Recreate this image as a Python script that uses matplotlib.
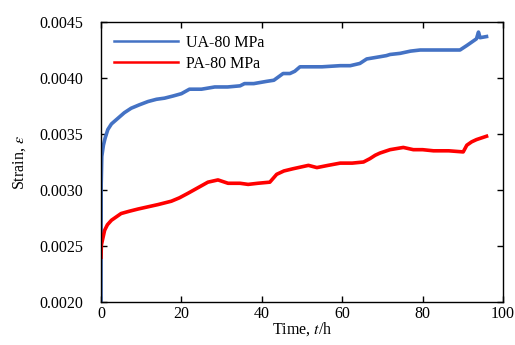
import matplotlib
matplotlib.use("Agg")
import matplotlib.pyplot as plt
from matplotlib.ticker import FormatStrFormatter, MultipleLocator

plt.rcParams['font.family'] = ['Liberation Serif', 'DejaVu Serif']
plt.rcParams['mathtext.fontset'] = 'stix'

# UA-80 MPa
ua_t = [0.0, 0.05, 0.2, 0.6, 1.0, 1.7, 2.6, 4.2, 5.8, 7.5, 9.5, 11.7, 13.8, 15.8, 18.0,
        20.0, 21.0, 22.0, 25.0, 28.3, 31.5, 34.6, 35.7, 38.0, 41.2, 43.0, 45.3, 47.0,
        48.2, 49.5, 52.0, 55.0, 59.5, 62.0, 64.4, 66.1, 69.4, 71.0, 71.9, 74.4, 77.0,
        79.4, 83.0, 86.0, 89.3, 91.0, 91.8, 93.4, 93.9, 94.3, 95.9]
ua_e = [0.00200, 0.00305, 0.00330, 0.00340, 0.00346, 0.00354, 0.00359, 0.00364, 0.00369,
        0.00373, 0.00376, 0.00379, 0.00381, 0.00382, 0.00384, 0.00386, 0.00388, 0.00390,
        0.00390, 0.00392, 0.00392, 0.00393, 0.00395, 0.00395, 0.00397, 0.00398, 0.00404,
        0.00404, 0.00406, 0.00410, 0.00410, 0.00410, 0.00411, 0.00411, 0.00413, 0.00417,
        0.00419, 0.00420, 0.00421, 0.00422, 0.00424, 0.00425, 0.00425, 0.00425, 0.00425,
        0.00429, 0.00431, 0.00435, 0.00441, 0.00436, 0.00437]

# PA-80 MPa
pa_t = [0.0, 0.1, 0.9, 1.6, 2.6, 3.8, 5.0, 7.0, 9.2, 11.7, 14.2, 17.5, 19.5, 21.6, 24.1,
        26.6, 29.1, 31.6, 34.6, 36.6, 39.0, 42.0, 43.7, 45.5, 47.8, 51.6, 53.7, 56.5,
        59.5, 62.5, 65.3, 66.9, 68.2, 69.4, 71.9, 75.2, 77.7, 80.0, 82.7, 86.5, 90.1,
        91.0, 92.2, 93.4, 95.9]
pa_e = [0.00240, 0.00251, 0.00264, 0.00269, 0.00273, 0.00276, 0.00279, 0.00281, 0.00283,
        0.00285, 0.00287, 0.00290, 0.00293, 0.00297, 0.00302, 0.00307, 0.00309, 0.00306,
        0.00306, 0.00305, 0.00306, 0.00307, 0.00314, 0.00317, 0.00319, 0.00322, 0.00320,
        0.00322, 0.00324, 0.00324, 0.00325, 0.00328, 0.00331, 0.00333, 0.00336, 0.00338,
        0.00336, 0.00336, 0.00335, 0.00335, 0.00334, 0.00340, 0.00343, 0.00345, 0.00348]

x_ticks = [0, 20, 40, 60, 80, 100]

fig = plt.figure(figsize=(5.15, 3.45), dpi=100)
ax = fig.add_axes([101/515, 1 - 302/345, (503 - 101)/515, (302 - 22)/345])

ax.plot(ua_t, ua_e, color='#4472C4', lw=2.6, label='UA-80 MPa', solid_joinstyle='round')
ax.plot(pa_t, pa_e, color='#FF0000', lw=2.6, label='PA-80 MPa', solid_joinstyle='round')

ax.set_xlim(0, 100)
ax.set_ylim(0.0020, 0.0045)
ax.set_xticks(x_ticks)
ax.yaxis.set_major_locator(MultipleLocator(0.0005))
ax.yaxis.set_major_formatter(FormatStrFormatter('%.4f'))
ax.tick_params(direction='in', top=True, right=True, length=4, width=1,
               labelsize=11.5)
ax.tick_params(axis='y', pad=13)
ax.tick_params(axis='x', pad=3)
for s in ax.spines.values():
    s.set_linewidth(1.0)

ax.set_xlabel('Time, $t$/h', fontsize=11.5, labelpad=-1)
ax.set_ylabel('Strain, $\\varepsilon$', fontsize=11.5, labelpad=8)

leg = ax.legend(loc='upper left', bbox_to_anchor=(0.0, 1.0), frameon=False,
                fontsize=11.5, handlelength=4.0, handletextpad=0.5,
                labelspacing=0.3, borderaxespad=0.4)
for ln in leg.get_lines():
    ln.set_linewidth(1.8)

fig.savefig('out.png', dpi=100)
